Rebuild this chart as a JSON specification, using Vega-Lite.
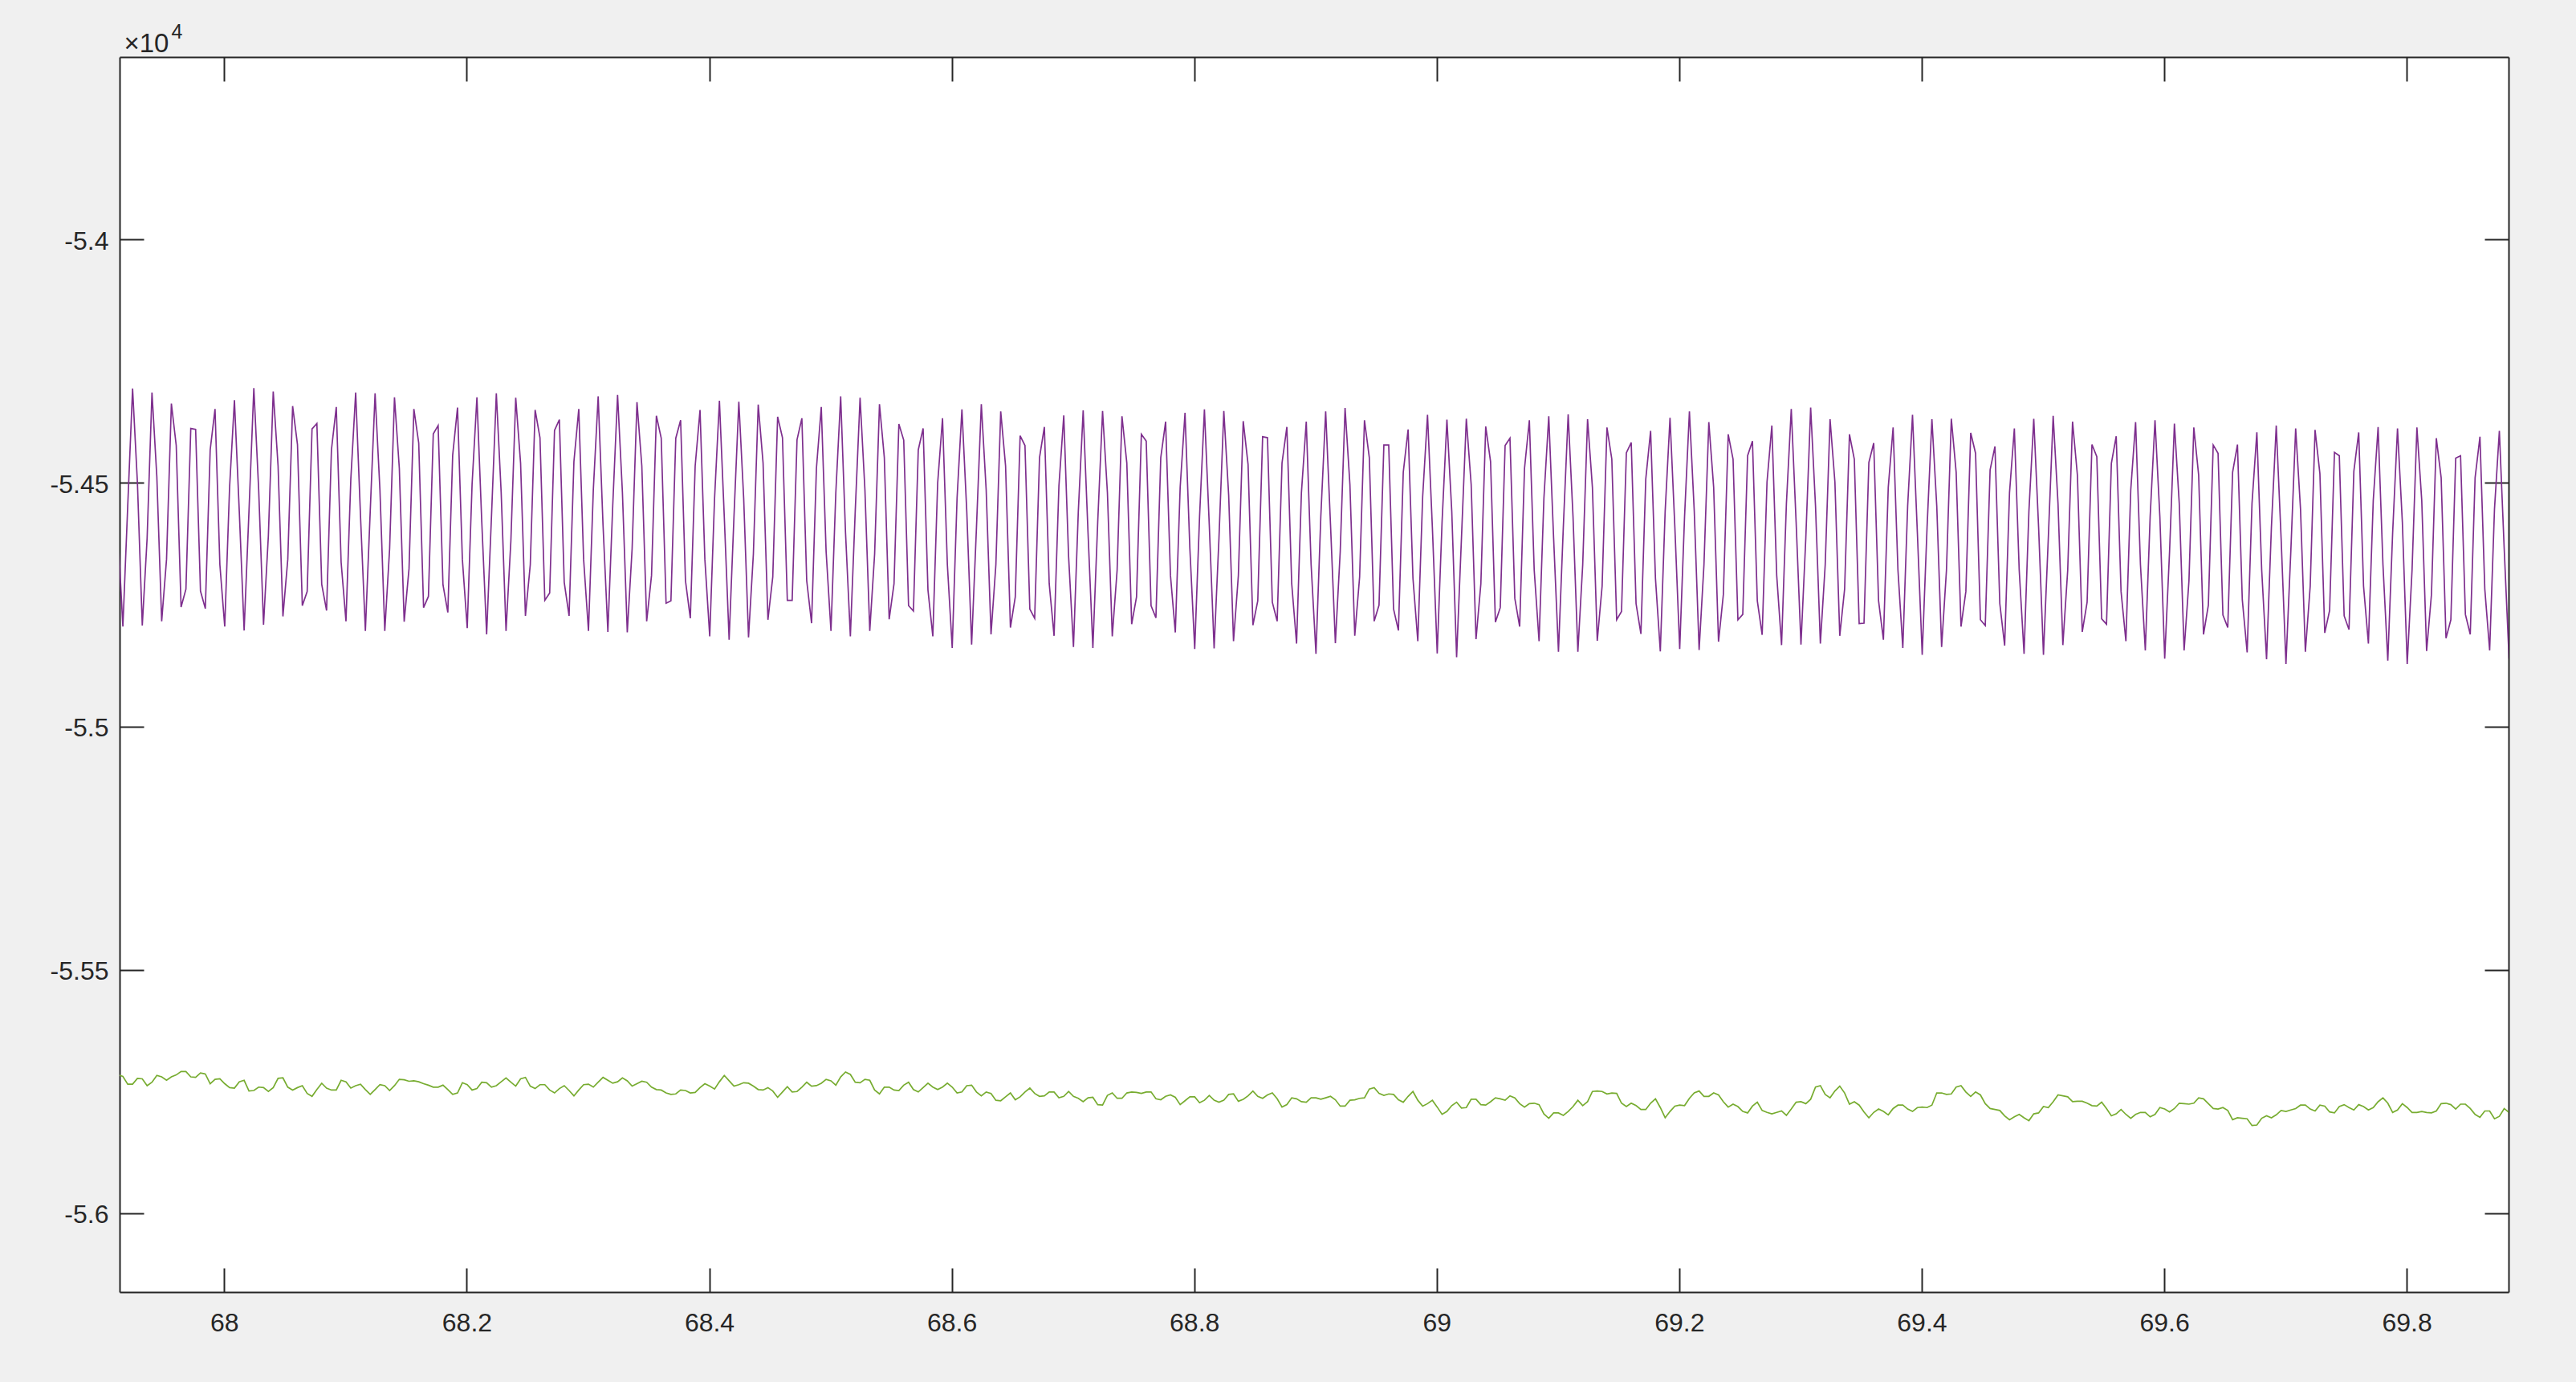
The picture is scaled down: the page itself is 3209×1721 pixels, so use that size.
{
"$schema": "https://vega.github.io/schema/vega-lite/v6.json",
"width": 2976, "height": 1538,
"autosize": {"type": "none"},
"padding": {"left": 149, "top": 71, "right": 84, "bottom": 112},
"background": "#f0f0f0",
"config": {
 "view": {"fill": "#ffffff", "stroke": null},
 "font": "Liberation Sans",
 "axis": {"grid": false, "domainColor": "#262626", "domainWidth": 2, "tickColor": "#262626", "tickWidth": 2, "tickSize": -30, "labelColor": "#262626", "labelFont": "Liberation Sans", "labelFontSize": 32, "titleFont": "Liberation Sans", "zindex": 1}
},
"data": {"values": [
{"t":67.9124,"p":-54606,"g":-55716},
{"t":67.9164,"p":-54795,"g":-55719},{"t":67.9204,"p":-54547,"g":-55735},{"t":67.9244,"p":-54306,"g":-55735},{"t":67.9284,"p":-54500,"g":-55723},{"t":67.9324,"p":-54793,"g":-55724},
{"t":67.9364,"p":-54613,"g":-55738},{"t":67.9404,"p":-54314,"g":-55731},{"t":67.9444,"p":-54487,"g":-55717},{"t":67.9484,"p":-54784,"g":-55720},{"t":67.9524,"p":-54657,"g":-55727},
{"t":67.9564,"p":-54337,"g":-55720},{"t":67.9604,"p":-54423,"g":-55716},{"t":67.9644,"p":-54755,"g":-55709},{"t":67.9684,"p":-54718,"g":-55709},{"t":67.9724,"p":-54388,"g":-55720},
{"t":67.9764,"p":-54390,"g":-55721},{"t":67.9804,"p":-54722,"g":-55712},{"t":67.9844,"p":-54758,"g":-55714},{"t":67.9884,"p":-54432,"g":-55734},{"t":67.9924,"p":-54348,"g":-55725},
{"t":67.9964,"p":-54668,"g":-55724},{"t":68.0004,"p":-54795,"g":-55734},{"t":68.0044,"p":-54509,"g":-55742},{"t":68.0084,"p":-54330,"g":-55743},{"t":68.0124,"p":-54558,"g":-55730},
{"t":68.0164,"p":-54803,"g":-55727},{"t":68.0204,"p":-54558,"g":-55749},{"t":68.0244,"p":-54305,"g":-55748},{"t":68.0284,"p":-54514,"g":-55741},{"t":68.0324,"p":-54791,"g":-55742},
{"t":68.0364,"p":-54608,"g":-55750},{"t":68.0404,"p":-54312,"g":-55742},{"t":68.0444,"p":-54465,"g":-55723},{"t":68.0484,"p":-54774,"g":-55722},{"t":68.0524,"p":-54657,"g":-55741},
{"t":68.0564,"p":-54342,"g":-55747},{"t":68.0604,"p":-54421,"g":-55742},{"t":68.0644,"p":-54752,"g":-55738},{"t":68.0684,"p":-54723,"g":-55754},{"t":68.0724,"p":-54389,"g":-55760},
{"t":68.0764,"p":-54378,"g":-55746},{"t":68.0804,"p":-54708,"g":-55733},{"t":68.0844,"p":-54762,"g":-55743},{"t":68.0884,"p":-54432,"g":-55747},{"t":68.0924,"p":-54344,"g":-55747},
{"t":68.0964,"p":-54663,"g":-55727},{"t":68.1004,"p":-54784,"g":-55730},{"t":68.1044,"p":-54492,"g":-55743},{"t":68.1084,"p":-54314,"g":-55738},{"t":68.1124,"p":-54569,"g":-55735},
{"t":68.1164,"p":-54804,"g":-55746},{"t":68.1204,"p":-54558,"g":-55756},{"t":68.1244,"p":-54316,"g":-55746},{"t":68.1284,"p":-54514,"g":-55736},{"t":68.1324,"p":-54804,"g":-55738},
{"t":68.1364,"p":-54635,"g":-55748},{"t":68.1404,"p":-54324,"g":-55738},{"t":68.1444,"p":-54470,"g":-55725},{"t":68.1484,"p":-54785,"g":-55726},{"t":68.1524,"p":-54676,"g":-55729},
{"t":68.1564,"p":-54348,"g":-55728},{"t":68.1604,"p":-54418,"g":-55730},{"t":68.1644,"p":-54756,"g":-55734},{"t":68.1684,"p":-54733,"g":-55737},{"t":68.1724,"p":-54399,"g":-55741},
{"t":68.1764,"p":-54382,"g":-55741},{"t":68.1804,"p":-54709,"g":-55737},{"t":68.1844,"p":-54766,"g":-55746},{"t":68.1884,"p":-54443,"g":-55756},{"t":68.1924,"p":-54345,"g":-55753},
{"t":68.1964,"p":-54657,"g":-55732},{"t":68.2004,"p":-54798,"g":-55736},{"t":68.2044,"p":-54503,"g":-55747},{"t":68.2084,"p":-54324,"g":-55744},{"t":68.2124,"p":-54580,"g":-55731},
{"t":68.2164,"p":-54811,"g":-55732},{"t":68.2204,"p":-54569,"g":-55741},{"t":68.2244,"p":-54316,"g":-55738},{"t":68.2284,"p":-54520,"g":-55730},{"t":68.2324,"p":-54804,"g":-55722},
{"t":68.2364,"p":-54619,"g":-55731},{"t":68.2404,"p":-54325,"g":-55739},{"t":68.2444,"p":-54459,"g":-55724},{"t":68.2484,"p":-54773,"g":-55721},{"t":68.2524,"p":-54668,"g":-55739},
{"t":68.2564,"p":-54350,"g":-55744},{"t":68.2604,"p":-54407,"g":-55736},{"t":68.2644,"p":-54741,"g":-55736},{"t":68.2684,"p":-54726,"g":-55747},{"t":68.2724,"p":-54392,"g":-55753},
{"t":68.2764,"p":-54370,"g":-55744},{"t":68.2804,"p":-54704,"g":-55738},{"t":68.2844,"p":-54773,"g":-55748},{"t":68.2884,"p":-54456,"g":-55759},{"t":68.2924,"p":-54348,"g":-55747},
{"t":68.2964,"p":-54657,"g":-55736},{"t":68.3004,"p":-54804,"g":-55735},{"t":68.3044,"p":-54514,"g":-55741},{"t":68.3084,"p":-54322,"g":-55731},{"t":68.3124,"p":-54586,"g":-55721},
{"t":68.3164,"p":-54806,"g":-55727},{"t":68.3204,"p":-54547,"g":-55733},{"t":68.3244,"p":-54319,"g":-55730},{"t":68.3284,"p":-54520,"g":-55722},{"t":68.3324,"p":-54807,"g":-55728},
{"t":68.3364,"p":-54635,"g":-55739},{"t":68.3404,"p":-54334,"g":-55734},{"t":68.3444,"p":-54465,"g":-55729},{"t":68.3484,"p":-54784,"g":-55731},{"t":68.3524,"p":-54690,"g":-55741},
{"t":68.3564,"p":-54362,"g":-55746},{"t":68.3604,"p":-54408,"g":-55747},{"t":68.3644,"p":-54747,"g":-55753},{"t":68.3684,"p":-54742,"g":-55756},{"t":68.3724,"p":-54408,"g":-55755},
{"t":68.3764,"p":-54371,"g":-55747},{"t":68.3804,"p":-54701,"g":-55748},{"t":68.3844,"p":-54778,"g":-55753},{"t":68.3884,"p":-54465,"g":-55752},{"t":68.3924,"p":-54350,"g":-55742},
{"t":68.3964,"p":-54657,"g":-55734},{"t":68.4004,"p":-54815,"g":-55739},{"t":68.4044,"p":-54531,"g":-55745},{"t":68.4084,"p":-54331,"g":-55730},{"t":68.4124,"p":-54569,"g":-55717},
{"t":68.4164,"p":-54822,"g":-55728},{"t":68.4204,"p":-54569,"g":-55739},{"t":68.4244,"p":-54333,"g":-55736},{"t":68.4284,"p":-54531,"g":-55732},{"t":68.4324,"p":-54817,"g":-55733},
{"t":68.4364,"p":-54646,"g":-55739},{"t":68.4404,"p":-54339,"g":-55746},{"t":68.4444,"p":-54459,"g":-55747},{"t":68.4484,"p":-54781,"g":-55742},{"t":68.4524,"p":-54693,"g":-55749},
{"t":68.4564,"p":-54364,"g":-55762},{"t":68.4604,"p":-54407,"g":-55751},{"t":68.4644,"p":-54741,"g":-55740},{"t":68.4684,"p":-54741,"g":-55751},{"t":68.4724,"p":-54411,"g":-55750},
{"t":68.4764,"p":-54367,"g":-55741},{"t":68.4804,"p":-54701,"g":-55731},{"t":68.4844,"p":-54788,"g":-55739},{"t":68.4884,"p":-54470,"g":-55738},{"t":68.4924,"p":-54344,"g":-55733},
{"t":68.4964,"p":-54641,"g":-55725},{"t":68.5004,"p":-54804,"g":-55728},{"t":68.5044,"p":-54520,"g":-55737},{"t":68.5084,"p":-54322,"g":-55720},{"t":68.5124,"p":-54602,"g":-55710},
{"t":68.5164,"p":-54815,"g":-55715},{"t":68.5204,"p":-54558,"g":-55731},{"t":68.5244,"p":-54325,"g":-55732},{"t":68.5284,"p":-54514,"g":-55725},{"t":68.5324,"p":-54804,"g":-55727},
{"t":68.5364,"p":-54646,"g":-55747},{"t":68.5404,"p":-54338,"g":-55755},{"t":68.5444,"p":-54448,"g":-55741},{"t":68.5484,"p":-54780,"g":-55741},{"t":68.5524,"p":-54707,"g":-55747},
{"t":68.5564,"p":-54379,"g":-55748},{"t":68.5604,"p":-54412,"g":-55737},{"t":68.5644,"p":-54752,"g":-55731},{"t":68.5684,"p":-54763,"g":-55746},{"t":68.5724,"p":-54432,"g":-55751},
{"t":68.5764,"p":-54388,"g":-55742},{"t":68.5804,"p":-54720,"g":-55733},{"t":68.5844,"p":-54815,"g":-55741},{"t":68.5884,"p":-54500,"g":-55746},{"t":68.5924,"p":-54367,"g":-55741},
{"t":68.5964,"p":-54668,"g":-55733},{"t":68.6004,"p":-54839,"g":-55741},{"t":68.6044,"p":-54531,"g":-55753},{"t":68.6084,"p":-54349,"g":-55751},{"t":68.6124,"p":-54558,"g":-55738},
{"t":68.6164,"p":-54832,"g":-55737},{"t":68.6204,"p":-54591,"g":-55751},{"t":68.6244,"p":-54338,"g":-55759},{"t":68.6284,"p":-54514,"g":-55751},{"t":68.6324,"p":-54811,"g":-55754},
{"t":68.6364,"p":-54668,"g":-55768},{"t":68.6404,"p":-54353,"g":-55769},{"t":68.6444,"p":-54465,"g":-55761},{"t":68.6484,"p":-54797,"g":-55753},{"t":68.6524,"p":-54734,"g":-55767},
{"t":68.6564,"p":-54403,"g":-55761},{"t":68.6604,"p":-54423,"g":-55751},{"t":68.6644,"p":-54759,"g":-55743},{"t":68.6684,"p":-54778,"g":-55754},{"t":68.6724,"p":-54448,"g":-55760},
{"t":68.6764,"p":-54385,"g":-55759},{"t":68.6804,"p":-54707,"g":-55751},{"t":68.6844,"p":-54814,"g":-55751},{"t":68.6884,"p":-54506,"g":-55763},{"t":68.6924,"p":-54361,"g":-55760},
{"t":68.6964,"p":-54652,"g":-55750},{"t":68.7004,"p":-54837,"g":-55760},{"t":68.7044,"p":-54558,"g":-55764},{"t":68.7084,"p":-54351,"g":-55771},{"t":68.7124,"p":-54602,"g":-55763},
{"t":68.7164,"p":-54839,"g":-55762},{"t":68.7204,"p":-54580,"g":-55777},{"t":68.7244,"p":-54352,"g":-55778},{"t":68.7284,"p":-54520,"g":-55758},{"t":68.7324,"p":-54815,"g":-55753},
{"t":68.7364,"p":-54679,"g":-55764},{"t":68.7404,"p":-54363,"g":-55764},{"t":68.7444,"p":-54459,"g":-55753},{"t":68.7484,"p":-54790,"g":-55751},{"t":68.7524,"p":-54734,"g":-55752},
{"t":68.7564,"p":-54400,"g":-55754},{"t":68.7604,"p":-54414,"g":-55751},{"t":68.7644,"p":-54752,"g":-55751},{"t":68.7684,"p":-54777,"g":-55765},{"t":68.7724,"p":-54448,"g":-55767},
{"t":68.7764,"p":-54374,"g":-55760},{"t":68.7804,"p":-54690,"g":-55757},{"t":68.7844,"p":-54807,"g":-55762},{"t":68.7884,"p":-54509,"g":-55777},{"t":68.7924,"p":-54356,"g":-55769},
{"t":68.7964,"p":-54635,"g":-55761},{"t":68.8004,"p":-54841,"g":-55761},{"t":68.8044,"p":-54569,"g":-55773},{"t":68.8084,"p":-54349,"g":-55768},{"t":68.8124,"p":-54586,"g":-55758},
{"t":68.8164,"p":-54840,"g":-55768},{"t":68.8204,"p":-54613,"g":-55772},{"t":68.8244,"p":-54352,"g":-55768},{"t":68.8284,"p":-54525,"g":-55756},{"t":68.8324,"p":-54825,"g":-55755},
{"t":68.8364,"p":-54690,"g":-55770},{"t":68.8404,"p":-54373,"g":-55766},{"t":68.8444,"p":-54462,"g":-55759},{"t":68.8484,"p":-54792,"g":-55749},{"t":68.8524,"p":-54742,"g":-55760},
{"t":68.8564,"p":-54405,"g":-55764},{"t":68.8604,"p":-54407,"g":-55757},{"t":68.8644,"p":-54745,"g":-55753},{"t":68.8684,"p":-54784,"g":-55765},{"t":68.8724,"p":-54459,"g":-55782},
{"t":68.8764,"p":-54385,"g":-55777},{"t":68.8804,"p":-54707,"g":-55763},{"t":68.8844,"p":-54830,"g":-55765},{"t":68.8884,"p":-54520,"g":-55771},{"t":68.8924,"p":-54374,"g":-55772},
{"t":68.8964,"p":-54668,"g":-55763},{"t":68.9004,"p":-54851,"g":-55763},{"t":68.9044,"p":-54569,"g":-55766},{"t":68.9084,"p":-54353,"g":-55763},{"t":68.9124,"p":-54586,"g":-55760},
{"t":68.9164,"p":-54829,"g":-55767},{"t":68.9204,"p":-54641,"g":-55780},{"t":68.9244,"p":-54346,"g":-55780},{"t":68.9284,"p":-54503,"g":-55768},{"t":68.9324,"p":-54814,"g":-55767},
{"t":68.9364,"p":-54693,"g":-55764},{"t":68.9404,"p":-54371,"g":-55763},{"t":68.9444,"p":-54448,"g":-55745},{"t":68.9484,"p":-54784,"g":-55742},{"t":68.9524,"p":-54751,"g":-55754},
{"t":68.9564,"p":-54422,"g":-55758},{"t":68.9604,"p":-54422,"g":-55755},{"t":68.9644,"p":-54759,"g":-55756},{"t":68.9684,"p":-54803,"g":-55767},{"t":68.9724,"p":-54478,"g":-55772},
{"t":68.9764,"p":-54390,"g":-55760},{"t":68.9804,"p":-54696,"g":-55750},{"t":68.9844,"p":-54825,"g":-55768},{"t":68.9884,"p":-54528,"g":-55780},{"t":68.9924,"p":-54360,"g":-55775},
{"t":68.9964,"p":-54591,"g":-55768},{"t":69.0004,"p":-54850,"g":-55782},{"t":69.0044,"p":-54580,"g":-55797},{"t":69.0084,"p":-54370,"g":-55791},{"t":69.0124,"p":-54558,"g":-55779},
{"t":69.0164,"p":-54858,"g":-55772},{"t":69.0204,"p":-54613,"g":-55784},{"t":69.0244,"p":-54368,"g":-55783},{"t":69.0284,"p":-54503,"g":-55766},{"t":69.0324,"p":-54821,"g":-55766},
{"t":69.0364,"p":-54707,"g":-55777},{"t":69.0404,"p":-54384,"g":-55778},{"t":69.0444,"p":-54456,"g":-55771},{"t":69.0484,"p":-54786,"g":-55763},{"t":69.0524,"p":-54756,"g":-55765},
{"t":69.0564,"p":-54423,"g":-55768},{"t":69.0604,"p":-54408,"g":-55759},{"t":69.0644,"p":-54737,"g":-55763},{"t":69.0684,"p":-54795,"g":-55775},{"t":69.0724,"p":-54470,"g":-55782},
{"t":69.0764,"p":-54371,"g":-55775},{"t":69.0804,"p":-54679,"g":-55774},{"t":69.0844,"p":-54825,"g":-55777},{"t":69.0884,"p":-54531,"g":-55796},{"t":69.0924,"p":-54363,"g":-55805},
{"t":69.0964,"p":-54613,"g":-55794},{"t":69.1004,"p":-54847,"g":-55794},{"t":69.1044,"p":-54591,"g":-55799},{"t":69.1084,"p":-54359,"g":-55791},{"t":69.1124,"p":-54569,"g":-55781},
{"t":69.1164,"p":-54847,"g":-55768},{"t":69.1204,"p":-54668,"g":-55779},{"t":69.1244,"p":-54369,"g":-55771},{"t":69.1284,"p":-54509,"g":-55750},{"t":69.1324,"p":-54824,"g":-55749},
{"t":69.1364,"p":-54712,"g":-55750},{"t":69.1404,"p":-54386,"g":-55755},{"t":69.1444,"p":-54451,"g":-55753},{"t":69.1484,"p":-54781,"g":-55754},{"t":69.1524,"p":-54764,"g":-55774},
{"t":69.1564,"p":-54438,"g":-55781},{"t":69.1604,"p":-54417,"g":-55774},{"t":69.1644,"p":-54748,"g":-55779},{"t":69.1684,"p":-54810,"g":-55787},{"t":69.1724,"p":-54492,"g":-55787},
{"t":69.1764,"p":-54393,"g":-55774},{"t":69.1804,"p":-54696,"g":-55765},{"t":69.1844,"p":-54846,"g":-55783},{"t":69.1884,"p":-54558,"g":-55804},{"t":69.1924,"p":-54366,"g":-55791},
{"t":69.1964,"p":-54591,"g":-55780},{"t":69.2004,"p":-54841,"g":-55778},{"t":69.2044,"p":-54569,"g":-55779},{"t":69.2084,"p":-54353,"g":-55764},{"t":69.2124,"p":-54558,"g":-55753},
{"t":69.2164,"p":-54843,"g":-55749},{"t":69.2204,"p":-54668,"g":-55760},{"t":69.2244,"p":-54375,"g":-55760},{"t":69.2284,"p":-54509,"g":-55753},{"t":69.2324,"p":-54826,"g":-55757},
{"t":69.2364,"p":-54729,"g":-55771},{"t":69.2404,"p":-54400,"g":-55782},{"t":69.2444,"p":-54451,"g":-55776},{"t":69.2484,"p":-54781,"g":-55781},{"t":69.2524,"p":-54770,"g":-55791},
{"t":69.2564,"p":-54444,"g":-55794},{"t":69.2604,"p":-54414,"g":-55780},{"t":69.2644,"p":-54742,"g":-55772},{"t":69.2684,"p":-54812,"g":-55789},{"t":69.2724,"p":-54498,"g":-55793},
{"t":69.2764,"p":-54382,"g":-55796},{"t":69.2804,"p":-54690,"g":-55793},{"t":69.2844,"p":-54833,"g":-55790},{"t":69.2884,"p":-54542,"g":-55799},{"t":69.2924,"p":-54348,"g":-55786},
{"t":69.2964,"p":-54580,"g":-55772},{"t":69.3004,"p":-54832,"g":-55771},{"t":69.3044,"p":-54613,"g":-55775},{"t":69.3084,"p":-54345,"g":-55766},{"t":69.3124,"p":-54547,"g":-55741},
{"t":69.3164,"p":-54830,"g":-55738},{"t":69.3204,"p":-54668,"g":-55756},{"t":69.3244,"p":-54369,"g":-55763},{"t":69.3284,"p":-54498,"g":-55749},{"t":69.3324,"p":-54814,"g":-55739},
{"t":69.3364,"p":-54718,"g":-55753},{"t":69.3404,"p":-54400,"g":-55776},{"t":69.3444,"p":-54451,"g":-55771},{"t":69.3484,"p":-54789,"g":-55778},{"t":69.3524,"p":-54788,"g":-55792},
{"t":69.3564,"p":-54458,"g":-55804},{"t":69.3604,"p":-54418,"g":-55793},{"t":69.3644,"p":-54742,"g":-55786},{"t":69.3684,"p":-54822,"g":-55791},{"t":69.3724,"p":-54509,"g":-55798},
{"t":69.3764,"p":-54386,"g":-55785},{"t":69.3804,"p":-54679,"g":-55778},{"t":69.3844,"p":-54839,"g":-55778},{"t":69.3884,"p":-54547,"g":-55786},{"t":69.3924,"p":-54360,"g":-55791},
{"t":69.3964,"p":-54602,"g":-55783},{"t":69.4004,"p":-54853,"g":-55782},{"t":69.4044,"p":-54591,"g":-55783},{"t":69.4084,"p":-54369,"g":-55778},{"t":69.4124,"p":-54547,"g":-55753},
{"t":69.4164,"p":-54837,"g":-55753},{"t":69.4204,"p":-54679,"g":-55756},{"t":69.4244,"p":-54368,"g":-55755},{"t":69.4284,"p":-54478,"g":-55741},{"t":69.4324,"p":-54795,"g":-55738},
{"t":69.4364,"p":-54723,"g":-55751},{"t":69.4404,"p":-54397,"g":-55760},{"t":69.4444,"p":-54439,"g":-55751},{"t":69.4484,"p":-54781,"g":-55757},{"t":69.4524,"p":-54793,"g":-55775},
{"t":69.4564,"p":-54473,"g":-55785},{"t":69.4604,"p":-54425,"g":-55787},{"t":69.4644,"p":-54748,"g":-55789},{"t":69.4684,"p":-54834,"g":-55800},{"t":69.4724,"p":-54520,"g":-55808},
{"t":69.4764,"p":-54388,"g":-55802},{"t":69.4804,"p":-54679,"g":-55797},{"t":69.4844,"p":-54851,"g":-55804},{"t":69.4884,"p":-54558,"g":-55810},{"t":69.4924,"p":-54368,"g":-55796},
{"t":69.4964,"p":-54591,"g":-55794},{"t":69.5004,"p":-54853,"g":-55781},{"t":69.5044,"p":-54613,"g":-55783},{"t":69.5084,"p":-54362,"g":-55771},{"t":69.5124,"p":-54542,"g":-55757},
{"t":69.5164,"p":-54833,"g":-55759},{"t":69.5204,"p":-54679,"g":-55761},{"t":69.5244,"p":-54374,"g":-55771},{"t":69.5284,"p":-54484,"g":-55770},{"t":69.5324,"p":-54806,"g":-55770},
{"t":69.5364,"p":-54745,"g":-55774},{"t":69.5404,"p":-54421,"g":-55779},{"t":69.5444,"p":-54446,"g":-55780},{"t":69.5484,"p":-54779,"g":-55772},{"t":69.5524,"p":-54790,"g":-55785},
{"t":69.5564,"p":-54460,"g":-55800},{"t":69.5604,"p":-54404,"g":-55796},{"t":69.5644,"p":-54723,"g":-55787},{"t":69.5684,"p":-54825,"g":-55797},{"t":69.5724,"p":-54514,"g":-55805},
{"t":69.5764,"p":-54375,"g":-55797},{"t":69.5804,"p":-54668,"g":-55793},{"t":69.5844,"p":-54844,"g":-55793},{"t":69.5884,"p":-54569,"g":-55802},{"t":69.5924,"p":-54371,"g":-55797},
{"t":69.5964,"p":-54569,"g":-55783},{"t":69.6004,"p":-54861,"g":-55786},{"t":69.6044,"p":-54641,"g":-55792},{"t":69.6084,"p":-54378,"g":-55785},{"t":69.6124,"p":-54542,"g":-55774},
{"t":69.6164,"p":-54844,"g":-55775},{"t":69.6204,"p":-54701,"g":-55776},{"t":69.6244,"p":-54386,"g":-55774},{"t":69.6284,"p":-54484,"g":-55763},{"t":69.6324,"p":-54811,"g":-55765},
{"t":69.6364,"p":-54751,"g":-55775},{"t":69.6404,"p":-54422,"g":-55785},{"t":69.6444,"p":-54439,"g":-55786},{"t":69.6484,"p":-54771,"g":-55783},{"t":69.6524,"p":-54797,"g":-55789},
{"t":69.6564,"p":-54478,"g":-55808},{"t":69.6604,"p":-54421,"g":-55804},{"t":69.6644,"p":-54740,"g":-55805},{"t":69.6684,"p":-54848,"g":-55806},{"t":69.6724,"p":-54542,"g":-55820},
{"t":69.6764,"p":-54396,"g":-55819},{"t":69.6804,"p":-54679,"g":-55805},{"t":69.6844,"p":-54862,"g":-55800},{"t":69.6884,"p":-54591,"g":-55804},{"t":69.6924,"p":-54382,"g":-55798},
{"t":69.6964,"p":-54613,"g":-55789},{"t":69.7004,"p":-54872,"g":-55791},{"t":69.7044,"p":-54641,"g":-55788},{"t":69.7084,"p":-54388,"g":-55785},{"t":69.7124,"p":-54553,"g":-55778},
{"t":69.7164,"p":-54847,"g":-55778},{"t":69.7204,"p":-54712,"g":-55786},{"t":69.7244,"p":-54391,"g":-55790},{"t":69.7284,"p":-54481,"g":-55778},{"t":69.7324,"p":-54808,"g":-55780},
{"t":69.7364,"p":-54762,"g":-55792},{"t":69.7404,"p":-54437,"g":-55794},{"t":69.7444,"p":-54444,"g":-55781},{"t":69.7484,"p":-54773,"g":-55777},{"t":69.7524,"p":-54801,"g":-55783},
{"t":69.7564,"p":-54476,"g":-55788},{"t":69.7604,"p":-54396,"g":-55777},{"t":69.7644,"p":-54712,"g":-55781},{"t":69.7684,"p":-54830,"g":-55788},{"t":69.7724,"p":-54536,"g":-55783},
{"t":69.7764,"p":-54385,"g":-55771},{"t":69.7804,"p":-54668,"g":-55763},{"t":69.7844,"p":-54865,"g":-55774},{"t":69.7884,"p":-54602,"g":-55793},{"t":69.7924,"p":-54388,"g":-55788},
{"t":69.7964,"p":-54580,"g":-55775},{"t":69.8004,"p":-54872,"g":-55783},{"t":69.8044,"p":-54679,"g":-55793},{"t":69.8084,"p":-54386,"g":-55793},{"t":69.8124,"p":-54536,"g":-55791},
{"t":69.8164,"p":-54845,"g":-55793},{"t":69.8204,"p":-54729,"g":-55794},{"t":69.8244,"p":-54408,"g":-55790},{"t":69.8284,"p":-54489,"g":-55775},{"t":69.8324,"p":-54819,"g":-55774},
{"t":69.8364,"p":-54781,"g":-55777},{"t":69.8404,"p":-54449,"g":-55786},{"t":69.8444,"p":-54444,"g":-55776},{"t":69.8484,"p":-54770,"g":-55776},{"t":69.8524,"p":-54811,"g":-55785},
{"t":69.8564,"p":-54489,"g":-55797},{"t":69.8604,"p":-54405,"g":-55803},{"t":69.8644,"p":-54718,"g":-55790},{"t":69.8684,"p":-54844,"g":-55790},{"t":69.8724,"p":-54553,"g":-55806},
{"t":69.8764,"p":-54393,"g":-55801},{"t":69.8804,"p":-54635,"g":-55785},{"t":69.8844,"p":-54861,"g":-55793}
]},
"layer": [
 {
  "mark": {"type": "line", "color": "#7E2F8E", "strokeWidth": 1.7, "clip": true},
  "encoding": {
   "x": {"field": "t", "type": "quantitative",
    "scale": {"domain": [67.9137, 69.884], "nice": false, "zero": false},
    "axis": {"orient": "bottom", "values": [68, 68.2, 68.4, 68.6, 68.8, 69, 69.2, 69.4, 69.6, 69.8], "format": ".1~f", "title": null, "labelPadding": 53}},
   "y": {"field": "p", "type": "quantitative",
    "scale": {"domain": [-56162, -53625], "nice": false, "zero": false},
    "axis": {"orient": "left", "values": [-56000, -55500, -55000, -54500, -54000], "labelExpr": "replace(format(datum.value/10000, '.2~f'), '−', '-')", "labelPadding": 44, "labelOffset": 2,
     "title": "×10", "titleAngle": 0, "titleAlign": "left", "titleBaseline": "alphabetic", "titleX": 5, "titleY": -7, "titleFontSize": 33, "titleFontWeight": "normal", "titleColor": "#262626"}}
  }
 },
 {
  "mark": {"type": "line", "color": "#77AC30", "strokeWidth": 1.7, "clip": true},
  "encoding": {
   "x": {"field": "t", "type": "quantitative",
    "scale": {"domain": [67.9137, 69.884], "nice": false, "zero": false},
    "axis": {"orient": "top", "values": [68, 68.2, 68.4, 68.6, 68.8, 69, 69.2, 69.4, 69.6, 69.8], "labels": false, "title": null}},
   "y": {"field": "g", "type": "quantitative",
    "scale": {"domain": [-56162, -53625], "nice": false, "zero": false},
    "axis": {"orient": "right", "values": [-56000, -55500, -55000, -54500, -54000], "labels": false,
     "title": "4", "titleAngle": 0, "titleAlign": "left", "titleBaseline": "alphabetic", "titleX": -2912, "titleY": -24, "titleFontSize": 25, "titleFontWeight": "normal", "titleColor": "#262626"}}
  }
 }
],
"resolve": {"axis": {"x": "independent", "y": "independent"}}
}
